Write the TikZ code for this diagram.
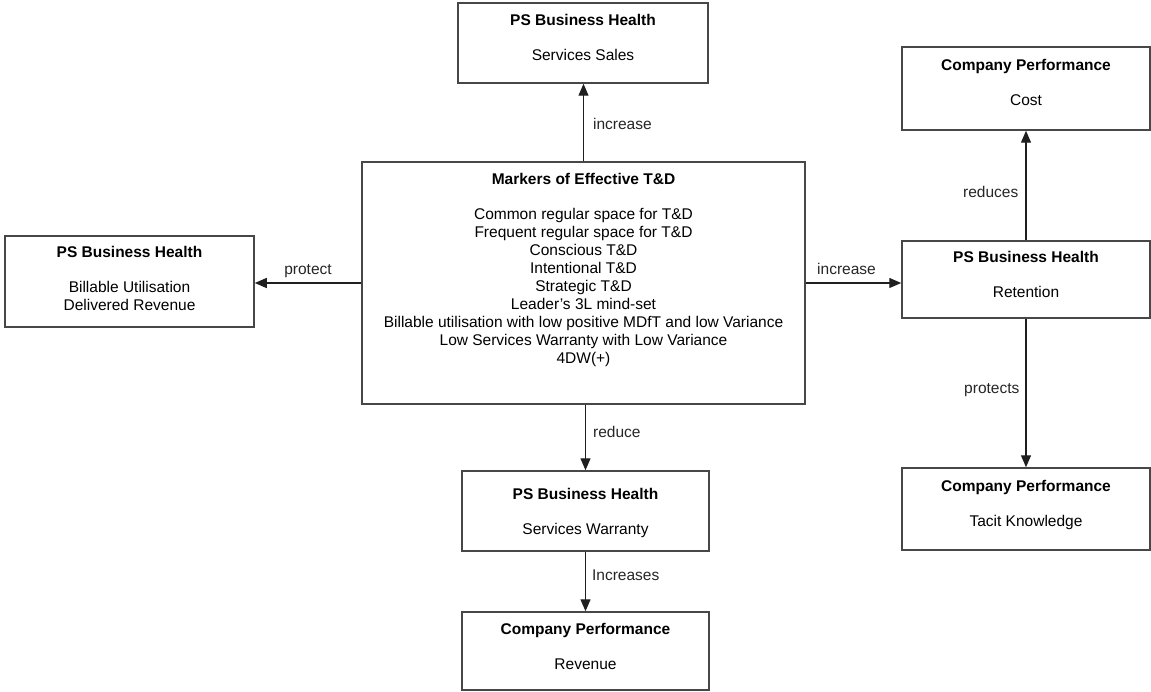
\documentclass[tikz,border=0pt]{standalone}
\usepackage{fontspec}
\setmainfont{Liberation Sans}
\usetikzlibrary{arrows.meta}
\newcommand{\diagfont}{\fontsize{15.5}{18}\selectfont}
\newcommand{\topstrut}{\rule{0pt}{12pt}}

\begin{document}
\begin{tikzpicture}[x=1pt,y=-1pt,
  box/.style={draw=black!72, line width=1.5pt, inner sep=0pt, fill=white},
  boxtext/.style={anchor=north, inner sep=0pt, align=center, font=\diagfont},
  link/.style={draw=black!88, line width=1.3pt, -{Triangle[length=12pt,width=10pt]}},
  lbl/.style={font=\diagfont, inner sep=0pt, text=black!85}
]
\fill[white] (0,0) rectangle (1151,692);
\useasboundingbox (0,0) rectangle (1151,692);

% boxes
\node[box, minimum width=250pt, minimum height=80pt]  (sales)     at (583,43)     {};
\node[box, minimum width=443pt, minimum height=242pt] (markers)   at (583.5,283)  {};
\node[box, minimum width=249pt, minimum height=91pt]  (billable)  at (129.5,281.5) {};
\node[box, minimum width=248pt, minimum height=83pt]  (cost)      at (1026,88.5)  {};
\node[box, minimum width=248pt, minimum height=77pt]  (retention) at (1026,279.5) {};
\node[box, minimum width=248pt, minimum height=82pt]  (tacit)     at (1026,509)   {};
\node[box, minimum width=247pt, minimum height=80pt]  (warranty)  at (585.5,511)  {};
\node[box, minimum width=247pt, minimum height=78pt]  (revenue)   at (585.5,651)  {};

% box texts
\node[boxtext] (sales-t) at ([yshift=-11.5pt]sales.north)
  {\topstrut\textbf{PS Business Health}\\[17pt]Services Sales};
\node[boxtext] (markers-t) at ([yshift=-11.5pt]markers.north)
  {\topstrut\textbf{Markers of Effective T\&D}\\[17pt]
   Common regular space for T\&D\\
   Frequent regular space for T\&D\\
   Conscious T\&D\\
   Intentional T\&D\\
   Strategic T\&D\\
   Leader’s 3L mind-set\\
   Billable utilisation with low positive MDfT and low Variance\\
   Low Services Warranty with Low Variance\\
   4DW(+)};
\node[boxtext] (billable-t) at ([yshift=-10.5pt]billable.north)
  {\topstrut\textbf{PS Business Health}\\[17pt]Billable Utilisation\\Delivered Revenue};
\node[boxtext] (cost-t) at ([yshift=-12.5pt]cost.north)
  {\topstrut\textbf{Company Performance}\\[17pt]Cost};
\node[boxtext] (retention-t) at ([yshift=-10.5pt]retention.north)
  {\topstrut\textbf{PS Business Health}\\[17pt]Retention};
\node[boxtext] (tacit-t) at ([yshift=-12.5pt]tacit.north)
  {\topstrut\textbf{Company Performance}\\[17pt]Tacit Knowledge};
\node[boxtext] (warranty-t) at ([yshift=-17.5pt]warranty.north)
  {\topstrut\textbf{PS Business Health}\\[17pt]Services Warranty};
\node[boxtext] (revenue-t) at ([yshift=-11.5pt]revenue.north)
  {\topstrut\textbf{Company Performance}\\[17pt]Revenue};

% connectors
\draw[link] (markers.north) -- (markers.north |- sales.south)
  node[lbl, pos=0.405, anchor=base west, xshift=9pt] (l-sales) {increase};
\draw[link] (markers.west) -- (markers.west -| billable.east)
  node[lbl, midway, anchor=base, yshift=8pt] (l-billable) {protect};
\draw[link] (markers.east) -- (markers.east -| retention.west)
  node[lbl, midway, anchor=base, yshift=8pt, xshift=-7pt] (l-retention) {increase};
\draw[link] (markers.south -| warranty.north) -- (warranty.north)
  node[lbl, pos=0.507, anchor=base west, xshift=7pt] (l-warranty) {reduce};
\draw[link] (warranty.south) -- (revenue.north)
  node[lbl, pos=0.475, anchor=base west, xshift=6pt] (l-revenue) {Increases};
\draw[link] (retention.north) -- (cost.south)
  node[lbl, pos=0.387, anchor=base east, xshift=-7pt] (l-cost) {reduces};
\draw[link] (retention.south) -- (tacit.north)
  node[lbl, pos=0.5, anchor=base east, xshift=-6pt] (l-tacit) {protects};
\end{tikzpicture}
\end{document}
